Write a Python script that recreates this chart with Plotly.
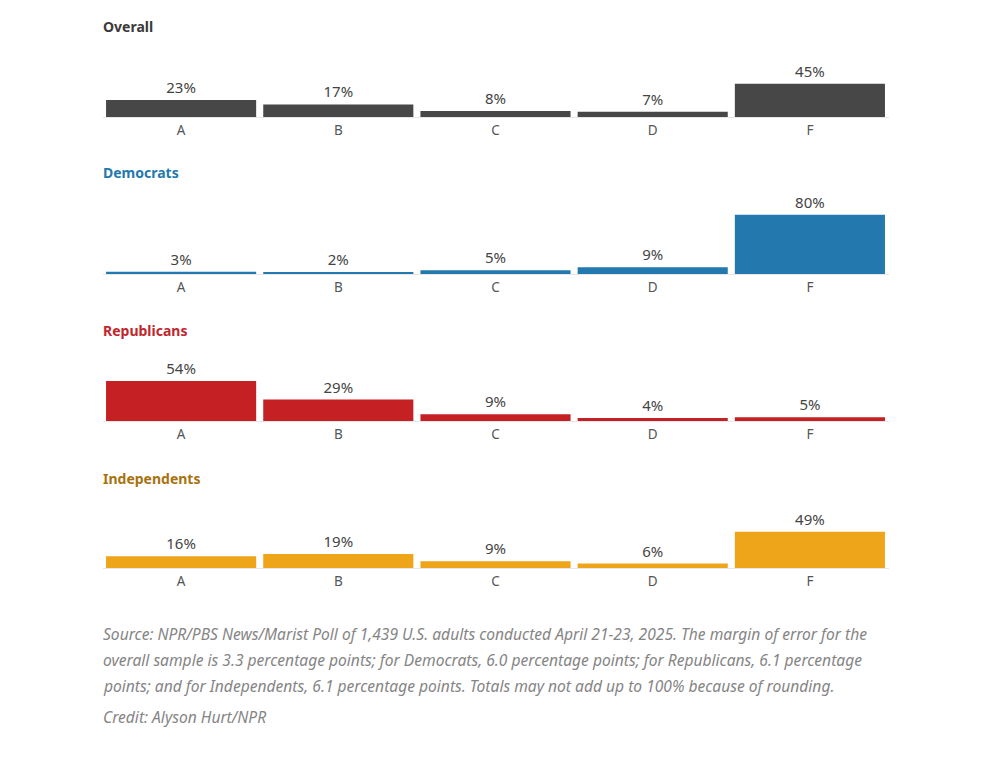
import plotly.graph_objects as go

grades = ["A", "B", "C", "D", "F"]
overall = [23, 17, 8, 7, 45]
democrats = [3, 2, 5, 9, 80]
republicans = [54, 29, 9, 4, 5]
independents = [16, 19, 9, 6, 49]

groups = ["Overall", "Democrats", "Republicans", "Independents"]
values = [overall, democrats, republicans, independents]
bar_colors = ["#474747", "#2379ae", "#c52023", "#eea519"]
title_colors = ["#3a3a3a", "#2379ae", "#c0272d", "#a8720f"]

# page body has an 8px margin, so the figure is a bit smaller than the window
OFF = 8
W, H = 1006 - 2 * OFF, 758 - 2 * OFF
baselines = [117, 274, 421, 568]  # px from top of the window
title_y = [27, 173, 330, 478]
px_per_pct = 0.74
panel_h = 70
FONT = "Noto Sans"


def px_x(x):
    return (x - OFF) / W


def px_y(y):
    return 1 - (y - OFF) / H


fig = go.Figure()

for i, (name, vals) in enumerate(zip(groups, values)):
    n = "" if i == 0 else str(i + 1)
    fig.add_trace(go.Bar(
        x=grades, y=vals, xaxis="x" + n, yaxis="y" + n,
        marker_color=bar_colors[i], marker_line_width=0,
        text=[f"{v}%" for v in vals], textposition="outside",
        textfont=dict(size=15, color="#444444", family=FONT),
        cliponaxis=False, showlegend=False, hoverinfo="skip",
    ))
    fig.layout["xaxis" + n] = dict(
        domain=[px_x(102.5), px_x(888.5)], anchor="y" + n,
        showgrid=False, zeroline=False, ticks="",
        showline=True, linecolor="#e6e6e6", linewidth=1,
        tickfont=dict(size=13.5, color="#555555", family=FONT),
        ticklabelstandoff=1, fixedrange=True,
    )
    fig.layout["yaxis" + n] = dict(
        domain=[px_y(baselines[i]), px_y(baselines[i] - panel_h)], anchor="x" + n,
        range=[0, panel_h / px_per_pct], visible=False, fixedrange=True,
    )
    fig.add_annotation(
        text=f"<b>{name}</b>", x=px_x(101), y=px_y(title_y[i]),
        xref="paper", yref="paper", xanchor="left", yanchor="middle",
        showarrow=False, font=dict(size=14, color=title_colors[i], family=FONT),
    )

source_lines = [
    "Source: NPR/PBS News/Marist Poll of 1,439 U.S. adults conducted April 21-23, 2025. The margin of error for the",
    "overall sample is 3.3 percentage points; for Democrats, 6.0 percentage points; for Republicans, 6.1 percentage",
    "points; and for Independents, 6.1 percentage points. Totals may not add up to 100% because of rounding.",
    "Credit: Alyson Hurt/NPR",
]
source_y = [634, 660, 686, 717]
for line, y in zip(source_lines, source_y):
    fig.add_annotation(
        text=f"<i>{line}</i>", x=px_x(101), y=px_y(y),
        xref="paper", yref="paper", xanchor="left", yanchor="middle",
        showarrow=False, font=dict(size=15.6, color="#858585", family=FONT),
    )

fig.update_layout(
    width=W, height=H, margin=dict(l=0, r=0, t=0, b=0),
    paper_bgcolor="white", plot_bgcolor="white",
    bargap=0.045, font=dict(family=FONT),
)
fig.write_html("out.html")
